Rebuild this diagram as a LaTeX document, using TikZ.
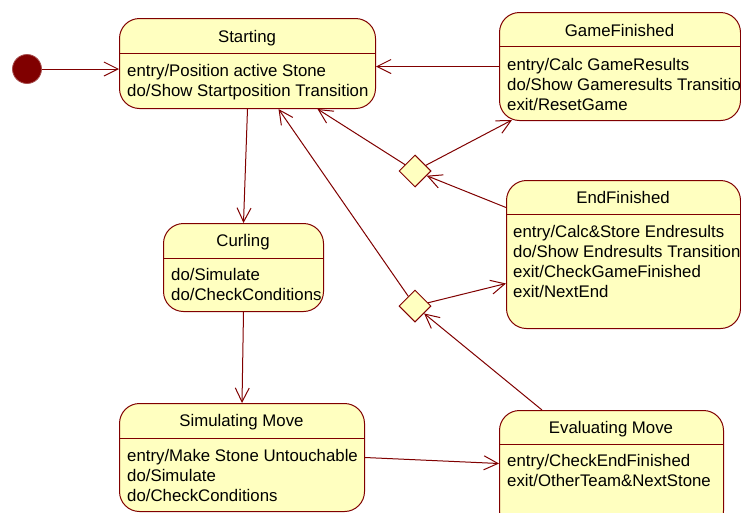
\documentclass[tikz,border=0pt]{standalone}
\usepackage{fontspec}
\setmainfont{Liberation Sans}
\usetikzlibrary{shapes.geometric,arrows.meta}
\definecolor{umlred}{RGB}{128,0,0}
\definecolor{umlfill}{RGB}{255,255,192}
\begin{document}
\begin{tikzpicture}[x=1pt,y=-1pt,
  statebox/.style={draw=umlred, fill=umlfill, line width=1pt, rounded corners=20pt,
    inner sep=0pt, anchor=north west},
  choice/.style={diamond, draw=umlred, fill=umlfill, line width=1pt,
    minimum width=32pt, minimum height=32pt, inner sep=0pt},
  trans/.style={draw=umlred, line width=1pt, -{Straight Barb[length=14pt,width=14pt]}},
  sep/.style={draw=umlred, line width=1pt},
  title/.style={anchor=base, inner sep=0pt, font=\fontsize{16.8}{20}\selectfont},
  body/.style={anchor=base west, inner sep=0pt, font=\fontsize{16.8}{20}\selectfont},
]
\useasboundingbox (0,0) rectangle (741,512);
\fill[white] (0,0) rectangle (741,512);

% initial pseudo-state
\node[circle, fill=umlred, draw=umlred!70!white, line width=0.8pt,
  minimum size=29pt, inner sep=0pt] (init) at (27,69) {};

% states
\node[statebox, minimum width=256pt, minimum height=90pt] (starting) at (119,18) {};
\draw[sep] ([yshift=-35pt]starting.north west) -- ([yshift=-35pt]starting.north east);
\node[title] (startingT) at (247,42) {Starting};
\node[body] (startingA) at (127,76) {entry/Position active Stone};
\node[body] (startingB) at (127,96) {do/Show Startposition Transition};

\node[statebox, minimum width=241pt, minimum height=108pt] (gamef) at (499,12) {};
\draw[sep] ([yshift=-34pt]gamef.north west) -- ([yshift=-34pt]gamef.north east);
\node[title] (gamefT) at (619.5,36) {GameFinished};
\node[body] (gamefA) at (507,70) {entry/Calc GameResults};
\node[body] (gamefB) at (507,90) {do/Show Gameresults Transition};
\node[body] (gamefC) at (507,110) {exit/ResetGame};

\node[statebox, minimum width=234pt, minimum height=148pt] (endf) at (506,180) {};
\draw[sep] ([yshift=-34pt]endf.north west) -- ([yshift=-34pt]endf.north east);
\node[title] (endfT) at (623,203) {EndFinished};
\node[body] (endfA) at (513,237) {entry/Calc\&Store Endresults};
\node[body] (endfB) at (513,257) {do/Show Endresults Transition};
\node[body] (endfC) at (513,277) {exit/CheckGameFinished};
\node[body] (endfD) at (513,297) {exit/NextEnd};

\node[statebox, minimum width=160pt, minimum height=88pt] (curling) at (163,223) {};
\draw[sep] ([yshift=-35pt]curling.north west) -- ([yshift=-35pt]curling.north east);
\node[title] (curlingT) at (243,246) {Curling};
\node[body] (curlingA) at (171,280) {do/Simulate};
\node[body] (curlingB) at (171,300) {do/CheckConditions};

\node[statebox, minimum width=245pt, minimum height=108pt] (simmove) at (119,403) {};
\draw[sep] ([yshift=-35pt]simmove.north west) -- ([yshift=-35pt]simmove.north east);
\node[title] (simmoveT) at (241.5,426) {Simulating Move};
\node[body] (simmoveA) at (127,461) {entry/Make Stone Untouchable};
\node[body] (simmoveB) at (127,481) {do/Simulate};
\node[body] (simmoveC) at (127,501) {do/CheckConditions};

\node[statebox, minimum width=224pt, minimum height=120pt] (evalmove) at (499,410) {};
\draw[sep] ([yshift=-34pt]evalmove.north west) -- ([yshift=-34pt]evalmove.north east);
\node[title] (evalmoveT) at (611,433) {Evaluating Move};
\node[body] (evalmoveA) at (507,466) {entry/CheckEndFinished};
\node[body] (evalmoveB) at (507,486) {exit/OtherTeam\&NextStone};

% choice points
\node[choice] (d1) at (415,171) {};
\node[choice] (d2) at (415,306) {};

% transitions
\draw[trans] (init.east) -- (init -| starting.west);
\draw[trans] (gamef.west) -- (gamef.west -| starting.east);
\draw[trans] (starting.south) -- (curling.north);
\draw[trans] (curling.south) -- (simmove.north);
\draw[trans] (simmove.east) -- ([yshift=7pt]evalmove.west);
\draw[trans] ([xshift=43pt]evalmove.north west) -- (d2);
\draw[trans] (d2) -- ([yshift=-29pt]endf.west);
\draw[trans] (d2) -- ([xshift=31pt]starting.south);
\draw[trans] ([yshift=47pt]endf.west) -- (d1);
\draw[trans] (d1) -- ([xshift=13pt,yshift=1pt]gamef.south west);
\draw[trans] (d1) -- ([xshift=70pt]starting.south);
\end{tikzpicture}
\end{document}
